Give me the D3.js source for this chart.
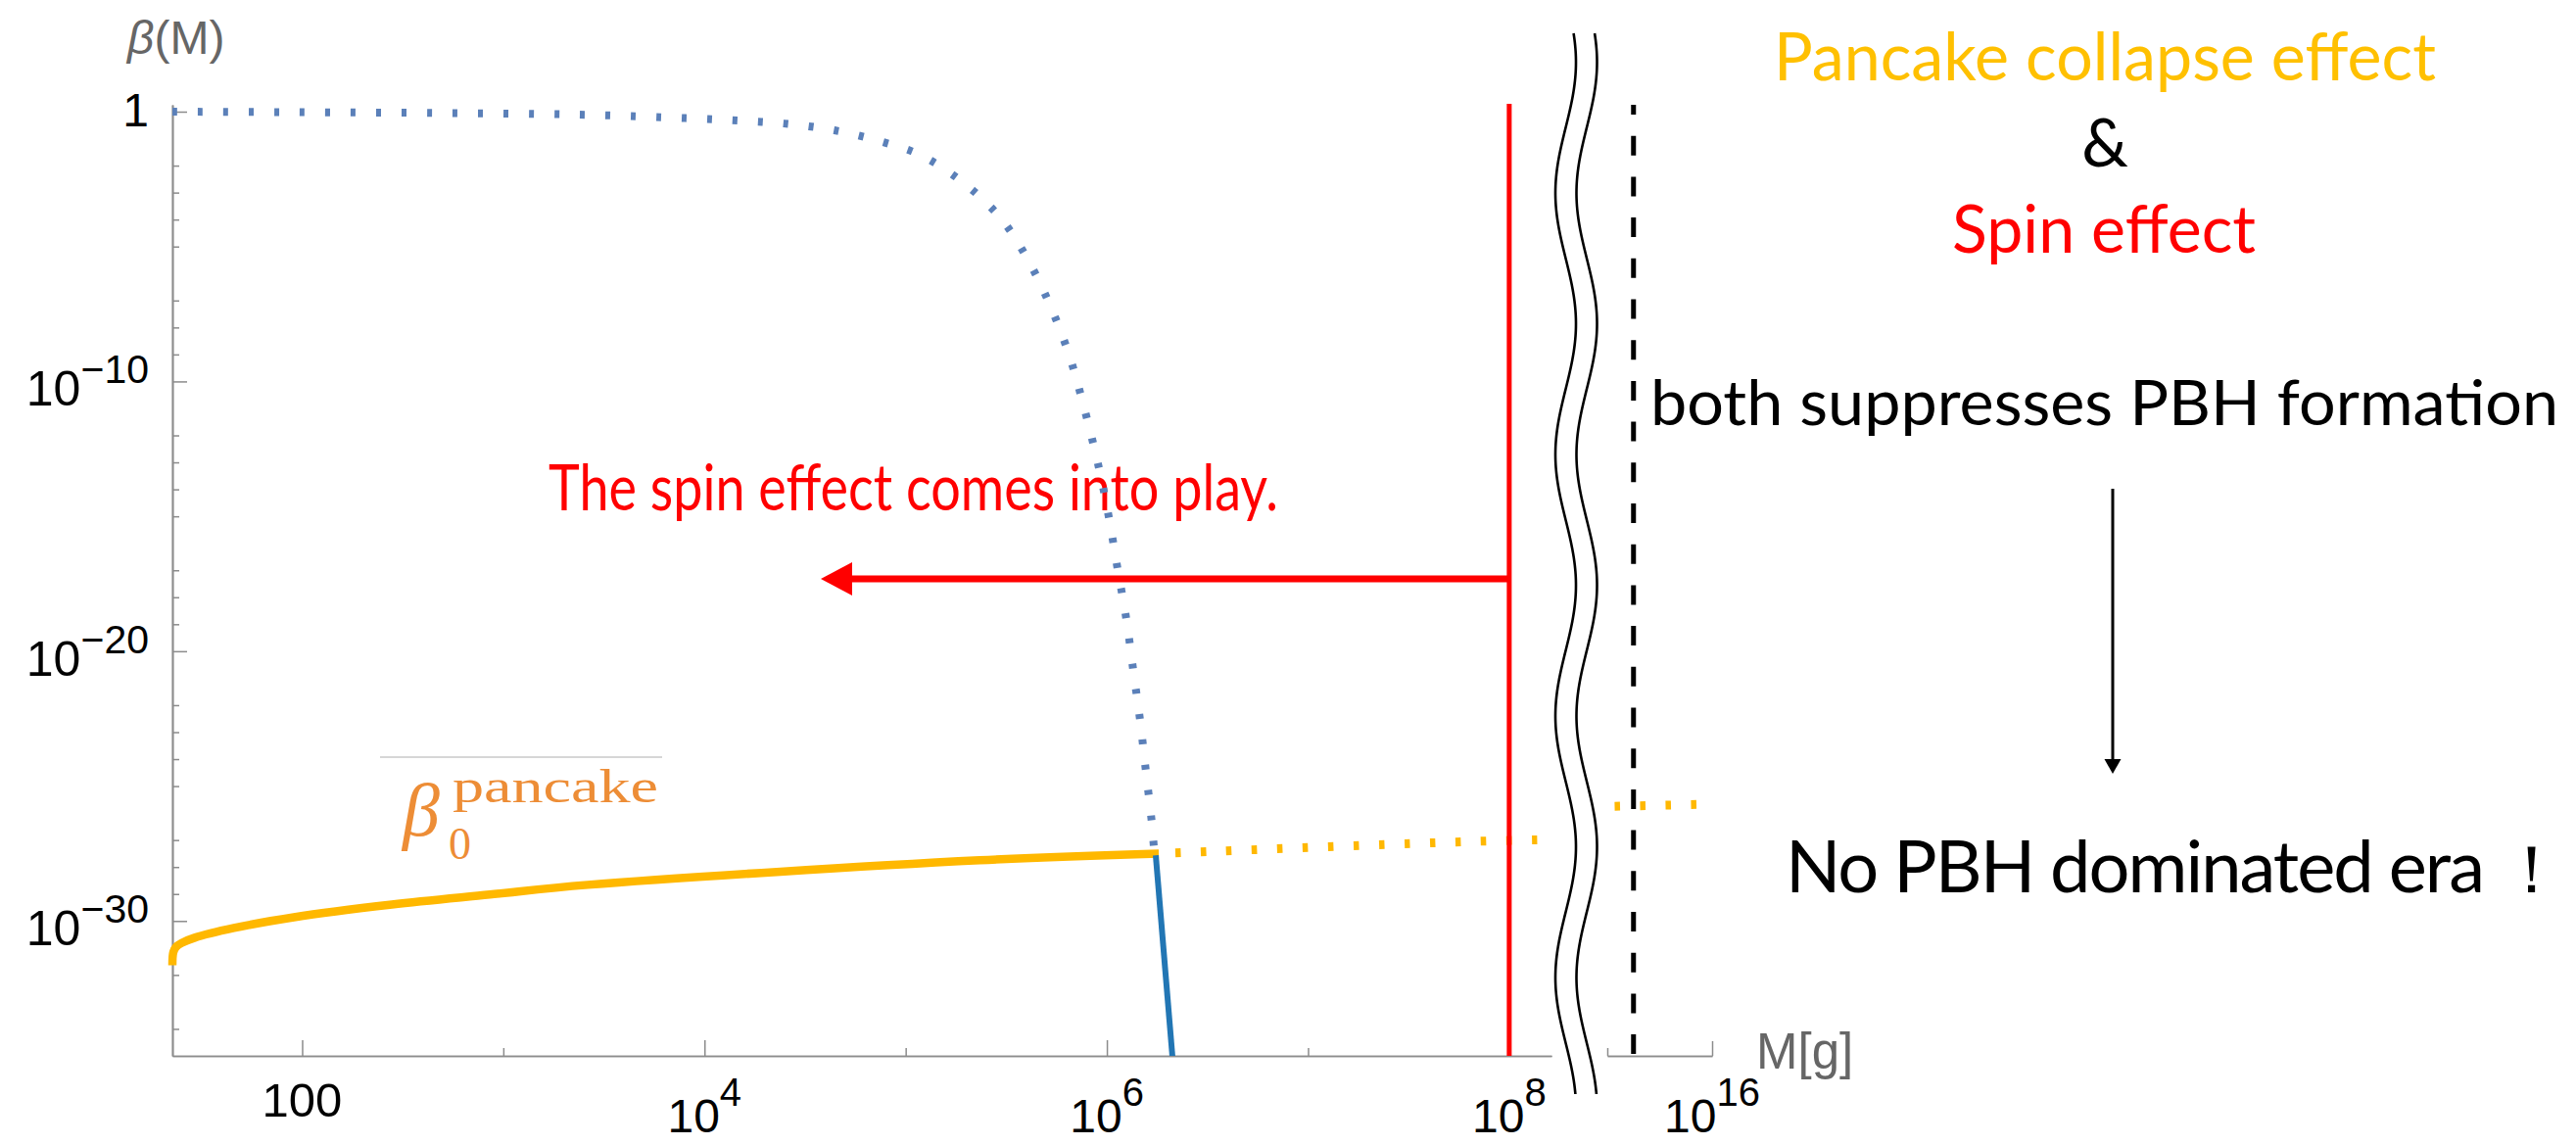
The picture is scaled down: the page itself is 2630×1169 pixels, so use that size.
<!DOCTYPE html>
<html>
<head>
<meta charset="utf-8">
<script src="https://cdn.jsdelivr.net/npm/d3@7"></script>
<style>
  html, body { margin: 0; padding: 0; background: #fff; }
  svg { display: block; }
  .tick-label { font-family: "Liberation Sans", Arial, sans-serif; fill: #000; }
  .note { font-family: Lato, "Noto Sans", sans-serif; }
</style>
</head>
<body>
<svg id="chart" width="2630" height="1169"></svg>
<script>
// ---- data: [log10 M (g), log10 beta] ----
const betaDotted = [
  [1.355, 0], [1.959, -0.02], [2.689, -0.05], [3.380, -0.11], [3.906, -0.24],
  [4.163, -0.33], [4.395, -0.44], [4.646, -0.69], [4.889, -1.13], [5.079, -1.63],
  [5.293, -2.67], [5.478, -4.00], [5.615, -5.59], [5.727, -7.34], [5.815, -9.08],
  [5.883, -10.86], [5.961, -13.22], [6.010, -15.04], [6.053, -16.93], [6.097, -18.82],
  [6.131, -20.70], [6.165, -22.56], [6.194, -24.45], [6.223, -26.33], [6.233, -27.21]
];
const betaSolid = [[6.243, -27.57], [6.330, -35.4]];
const pancakeSolid = [
  [1.355, -31.64], [1.360, -31.15], [1.375, -30.95], [1.400, -30.82], [1.466, -30.62],
  [1.661, -30.26], [1.959, -29.86], [2.446, -29.39], [2.933, -29.02], [3.420, -28.66],
  [5.367, -27.75], [6.258, -27.50]
];
const pancakeDotted = [[6.258, -27.50], [7.786, -27.06], [8.170, -26.99]];
const pancakeDottedFar = [[15.07, -25.75], [15.86, -25.68]];

const spinMassExp = 8;        // red vertical line
const boundMassExp = 15.25;   // black dashed line (far panel)

// ---- ticks ----
const xMajorExp = [2, 4, 6, 8];
const xMinorExp = [3, 5, 7];
const xFarMajorExp = [16];
const xFarMinorExp = [15];
const yMajorExp = [0, -10, -20, -30];
const yMinorExp = [-2, -3, -4, -5, -7, -8, -9, -12, -13, -14, -15, -17, -18, -19,
                   -22, -23, -24, -25, -27, -28, -29, -32, -34];

// ---- texts ----
const spinNote = "The spin effect comes into play.";
const sideTitle1 = "Pancake collapse effect";
const sideAmp = "&";
const sideTitle2 = "Spin effect";
const sideLine = "both suppresses PBH formation";
const sideResult = "No PBH dominated era";
const sideResultMark = "！";

const svg = d3.select("#chart");
const p = v => Math.pow(10, v);

// scales
const x = d3.scaleLog().domain([p(1.355), p(8.21)]).range([176, 1584]);
const xFar = d3.scaleLog().domain([1e15, 1e16]).range([1641, 1748]);
const y = d3.scaleLog().domain([1e-35, p(0.254)]).range([1078, 107]);

const axisColor = "#8c8c8c";

svg.append("defs").append("clipPath").attr("id", "plotClip")
  .append("rect").attr("x", 170).attr("y", 100).attr("width", 1414).attr("height", 978);

// ---- axes ----
function styleAxis(g) {
  g.select(".domain").attr("stroke", axisColor).attr("stroke-width", 1.7);
  g.selectAll(".tick line").attr("stroke", axisColor).attr("stroke-width", 1.5);
  g.selectAll(".tick text").remove();
}
const gx = svg.append("g").attr("transform", "translate(0,1078)");
gx.append("g").call(d3.axisBottom(x).tickValues(xMajorExp.map(p)).tickSize(-16).tickSizeOuter(0)).call(styleAxis);
gx.append("g").call(d3.axisBottom(x).tickValues(xMinorExp.map(p)).tickSize(-8).tickSizeOuter(0)).call(styleAxis);
gx.append("g").call(d3.axisBottom(xFar).tickValues(xFarMajorExp.map(p)).tickSize(-15).tickSizeOuter(0)).call(styleAxis);
gx.append("g").call(d3.axisBottom(xFar).tickValues(xFarMinorExp.map(p)).tickSize(-8).tickSizeOuter(0)).call(styleAxis);

const gy = svg.append("g").attr("transform", "translate(176,0)");
gy.append("g").call(d3.axisLeft(y).tickValues(yMajorExp.map(p)).tickSize(-15).tickSizeOuter(0)).call(styleAxis);
gy.append("g").call(d3.axisLeft(y).tickValues(yMinorExp.map(p)).tickSize(-7).tickSizeOuter(0)).call(styleAxis);

// tick labels
function powerLabel(xPos, yBase, exp, anchor, raise, base, sup) {
  const t = svg.append("text").attr("class", "tick-label")
    .attr("x", xPos).attr("y", yBase).attr("text-anchor", anchor);
  t.append("tspan").attr("font-size", base).text("10");
  t.append("tspan").attr("font-size", sup).attr("dy", -raise)
    .text(exp < 0 ? "\u2212" + Math.abs(exp) : String(exp));
}
yMajorExp.forEach(e => {
  const ty = y(p(e));
  if (e === 0) {
    svg.append("text").attr("class", "tick-label").attr("x", 152).attr("y", ty + 15)
      .attr("text-anchor", "end").attr("font-size", 48).text("1");
  } else {
    powerLabel(152, ty + 25, e, "end", 23, 50, 41);
  }
});
xMajorExp.forEach(e => {
  const tx = x(p(e));
  if (e === 2) {
    svg.append("text").attr("class", "tick-label").attr("x", tx).attr("y", 1140)
      .attr("text-anchor", "middle").attr("font-size", 49).text("100");
  } else {
    powerLabel(tx, 1156, e, "middle", 27, 48, 40);
  }
});
xFarMajorExp.forEach(e => powerLabel(xFar(p(e)), 1156, e, "middle", 27, 48, 40));

// axis titles
const yTitle = svg.append("text").attr("x", 130).attr("y", 55)
  .attr("font-family", "'Liberation Sans', Arial, sans-serif").attr("font-size", 48).attr("fill", "#666");
yTitle.append("tspan").attr("font-style", "italic").text("\u03B2");
yTitle.append("tspan").text("(M)");
svg.append("text").attr("x", 1793).attr("y", 1091)
  .attr("font-family", "'Liberation Sans', Arial, sans-serif").attr("font-size", 51).attr("fill", "#666")
  .text("M[g]");

// ---- red note text (under the curves) ----
svg.append("text").attr("class", "note").attr("x", 560).attr("y", 521)
  .attr("font-size", 65).attr("fill", "#ff0000")
  .attr("textLength", 745).attr("lengthAdjust", "spacingAndGlyphs").text(spinNote);

// ---- curves ----
const line = d3.line().x(d => x(p(d[0]))).y(d => y(p(d[1]))).curve(d3.curveCatmullRom);
const lineFar = d3.line().x(d => xFar(p(d[0]))).y(d => y(p(d[1])));
const plot = svg.append("g").attr("clip-path", "url(#plotClip)");

plot.append("path").datum(pancakeSolid).attr("d", line)
  .attr("fill", "none").attr("stroke", "#ffb800").attr("stroke-width", 8.5);
plot.append("path").datum(pancakeDotted).attr("d", line)
  .attr("fill", "none").attr("stroke", "#ffb800").attr("stroke-width", 9)
  .attr("stroke-dasharray", "5.5 20.5").attr("stroke-dashoffset", -17);
plot.append("path").datum(betaDotted).attr("d", line)
  .attr("fill", "none").attr("stroke", "#5b80b9").attr("stroke-width", 8)
  .attr("stroke-dasharray", "5 21");
plot.append("path").datum(betaSolid).attr("d", line)
  .attr("fill", "none").attr("stroke", "#2276b4").attr("stroke-width", 6);

svg.append("path").datum(pancakeDottedFar).attr("d", lineFar)
  .attr("fill", "none").attr("stroke", "#ffb800").attr("stroke-width", 9)
  .attr("stroke-dasharray", "5.5 20.5");

// beta_0^pancake label
svg.append("line").attr("x1", 388).attr("x2", 676).attr("y1", 773).attr("y2", 773)
  .attr("stroke", "#c8c8c8").attr("stroke-width", 1.5);
const bl = svg.append("g").attr("font-family", "'Liberation Serif', 'DejaVu Serif', serif").attr("fill", "#ed8d36");
bl.append("text").attr("x", 411).attr("y", 853).attr("font-size", 76).attr("font-style", "italic").text("\u03B2");
bl.append("text").attr("x", 458).attr("y", 877).attr("font-size", 46).text("0");
bl.append("text").attr("x", 462).attr("y", 819).attr("font-size", 48)
  .attr("textLength", 210).attr("lengthAdjust", "spacingAndGlyphs").text("pancake");

// ---- red vertical line and arrow ----
const xs = x(p(spinMassExp));
svg.append("line").attr("x1", xs).attr("x2", xs).attr("y1", 106).attr("y2", 1078)
  .attr("stroke", "#ff0000").attr("stroke-width", 5);
svg.append("line").attr("x1", xs).attr("x2", 866).attr("y1", 591).attr("y2", 591)
  .attr("stroke", "#ff0000").attr("stroke-width", 7);
svg.append("path").attr("d", "M838,591 L870,574 L870,608 Z").attr("fill", "#ff0000");

// ---- dashed boundary ----
const xb = xFar(p(boundMassExp));
svg.append("line").attr("x1", xb).attr("x2", xb).attr("y1", 107).attr("y2", 1078)
  .attr("stroke", "#000").attr("stroke-width", 5)
  .attr("stroke-dasharray", "20 21.7").attr("stroke-dashoffset", 10);

// ---- axis break: two wavy lines ----
const waveYs = d3.range(34, 1118, 3);
const wave = cx => waveYs.map(v => [cx - 10.5 * Math.cos(2 * Math.PI * (v - 197) / 267), v]);
const leftWave = wave(1598.5), rightWave = wave(1620);
svg.append("path")
  .attr("d", d3.line()(leftWave.concat(rightWave.slice().reverse())) + "Z")
  .attr("fill", "#fff").attr("stroke", "none");
[leftWave, rightWave].forEach(w => {
  svg.append("path").attr("d", d3.line().curve(d3.curveCatmullRom)(w))
    .attr("fill", "none").attr("stroke", "#000").attr("stroke-width", 2.6);
});

// ---- side notes ----
function note(txt, xPos, yPos, size, fill, anchor, len) {
  const t = svg.append("text").attr("class", "note").attr("x", xPos).attr("y", yPos)
    .attr("font-size", size).attr("fill", fill).attr("text-anchor", anchor).text(txt);
  if (len) t.attr("textLength", len).attr("lengthAdjust", "spacingAndGlyphs");
  return t;
}
note(sideTitle1, 1811, 82, 67, "#ffc000", "start", 676);
note(sideAmp, 2149, 170, 67, "#000", "middle");
note(sideTitle2, 1993, 258, 67, "#ff0000", "start", 310);
note(sideLine, 1685, 434, 64, "#000", "start", 927);

// result line: fit the words to their width with letter spacing, then the mark
const res = note(sideResult, 1823, 911, 74, "#000", "start");
const natural = res.node().getComputedTextLength();
const target = 712;
res.attr("letter-spacing", ((target - natural) / sideResult.length).toFixed(2));
note(sideResultMark, 2551, 911, 68, "#000", "start");

// down arrow
svg.append("line").attr("x1", 2157).attr("x2", 2157).attr("y1", 499).attr("y2", 778)
  .attr("stroke", "#000").attr("stroke-width", 3);
svg.append("path").attr("d", "M2157,790 L2148.5,775 L2165.5,775 Z").attr("fill", "#000");
</script>
</body>
</html>
